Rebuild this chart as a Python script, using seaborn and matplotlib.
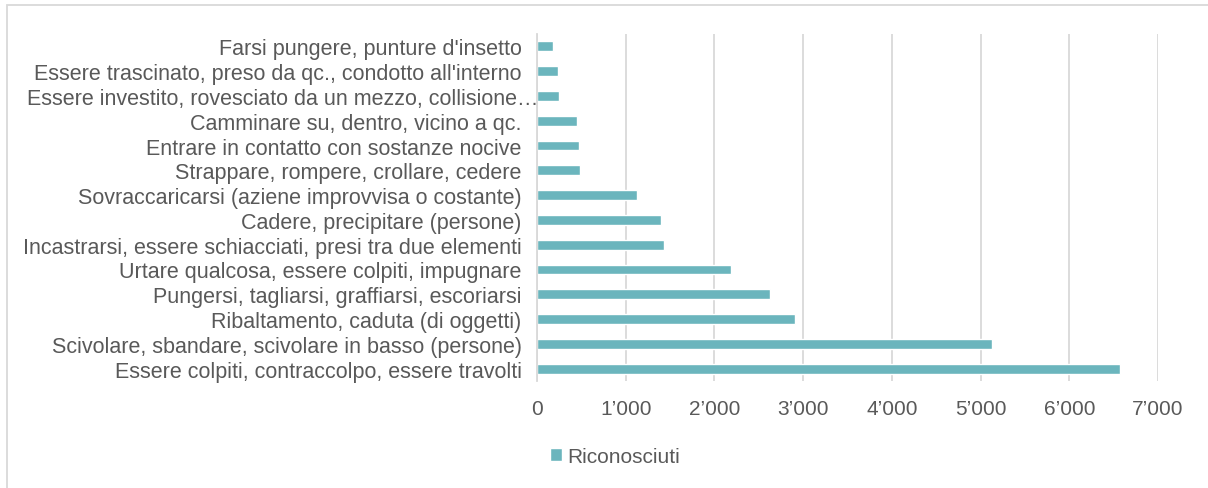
import pandas as pd
import matplotlib.pyplot as plt
import matplotlib.ticker as mticker
import matplotlib.transforms as mtransforms
import seaborn as sns

# categories top to bottom as shown in the chart
categories = [
    "Farsi pungere, punture d'insetto",
    "Essere trascinato, preso da qc., condotto all'interno",
    "Essere investito, rovesciato da un mezzo, collisione…",
    "Camminare su, dentro, vicino a qc.",
    "Entrare in contatto con sostanze nocive",
    "Strappare, rompere, crollare, cedere",
    "Sovraccaricarsi (aziene improvvisa o costante)",
    "Cadere, precipitare (persone)",
    "Incastrarsi, essere schiacciati, presi tra due elementi",
    "Urtare qualcosa, essere colpiti, impugnare",
    "Pungersi, tagliarsi, graffiarsi, escoriarsi",
    "Ribaltamento, caduta (di oggetti)",
    "Scivolare, sbandare, scivolare in basso (persone)",
    "Essere colpiti, contraccolpo, essere travolti",
]
riconosciuti = [176, 233, 247, 456, 478, 482, 1131, 1402, 1426, 2182, 2628, 2904, 5124, 6573]
x_ticks = [0, 1000, 2000, 3000, 4000, 5000, 6000, 7000]

data = pd.DataFrame({"categoria": categories, "Riconosciuti": riconosciuti})

sns.set_style("white")
plt.rcParams['font.family'] = ['Liberation Sans', 'DejaVu Sans']

teal = "#6BB5BD"
grey_txt = "#595959"
fs = 15.5

fig = plt.figure(figsize=(12.08, 4.89), dpi=100)
ax = fig.add_axes([537 / 1208, 1 - 382 / 489, (1158 - 537) / 1208, (382 - 35) / 489])

sns.barplot(data=data, y="categoria", x="Riconosciuti", color=teal,
            width=0.4, ax=ax, label="Riconosciuti", saturation=1)

ax.set_xlim(0, 7000)
ax.set_xticks(x_ticks)
ax.xaxis.set_major_formatter(mticker.FuncFormatter(
    lambda v, p: f"{int(v):,}".replace(",", "\u2019")))
ax.grid(axis="x", color="#d9d9d9", linewidth=1.3)
ax.set_axisbelow(True)
for s in ["top", "right", "bottom"]:
    ax.spines[s].set_visible(False)
ax.spines["left"].set_color("#d9d9d9")
ax.spines["left"].set_linewidth(1.3)
ax.set_xlabel("")
ax.set_ylabel("")
ax.tick_params(axis="y", length=0, pad=11, labelsize=fs, labelcolor=grey_txt)
ax.tick_params(axis="x", length=0, pad=13, labelsize=15, labelcolor=grey_txt)

# the truncated label sticks out past the others, like in the original
shift = mtransforms.ScaledTranslation(0.17, 0, fig.dpi_scale_trans)
for lab in ax.get_yticklabels():
    if lab.get_text().endswith("…"):
        lab.set_transform(lab.get_transform() + shift)

leg = ax.get_legend()
if leg is not None:
    leg.remove()
handles, labels = ax.get_legend_handles_labels()
fig.legend(handles[:1], labels[:1], loc="center", bbox_to_anchor=(0.509, 0.065),
           frameon=False, handlelength=0.55, handleheight=0.55, handletextpad=0.25,
           labelcolor=grey_txt, fontsize=15)

# light border around the chart area
fig.patches.append(plt.Rectangle((7 / 1208, -0.1), 1.2, 1 - 6 / 489 + 0.1,
                                 transform=fig.transFigure, fill=False,
                                 edgecolor="#d9d9d9", linewidth=1.3))

fig.savefig("out.png", dpi=100)
plt.close()
